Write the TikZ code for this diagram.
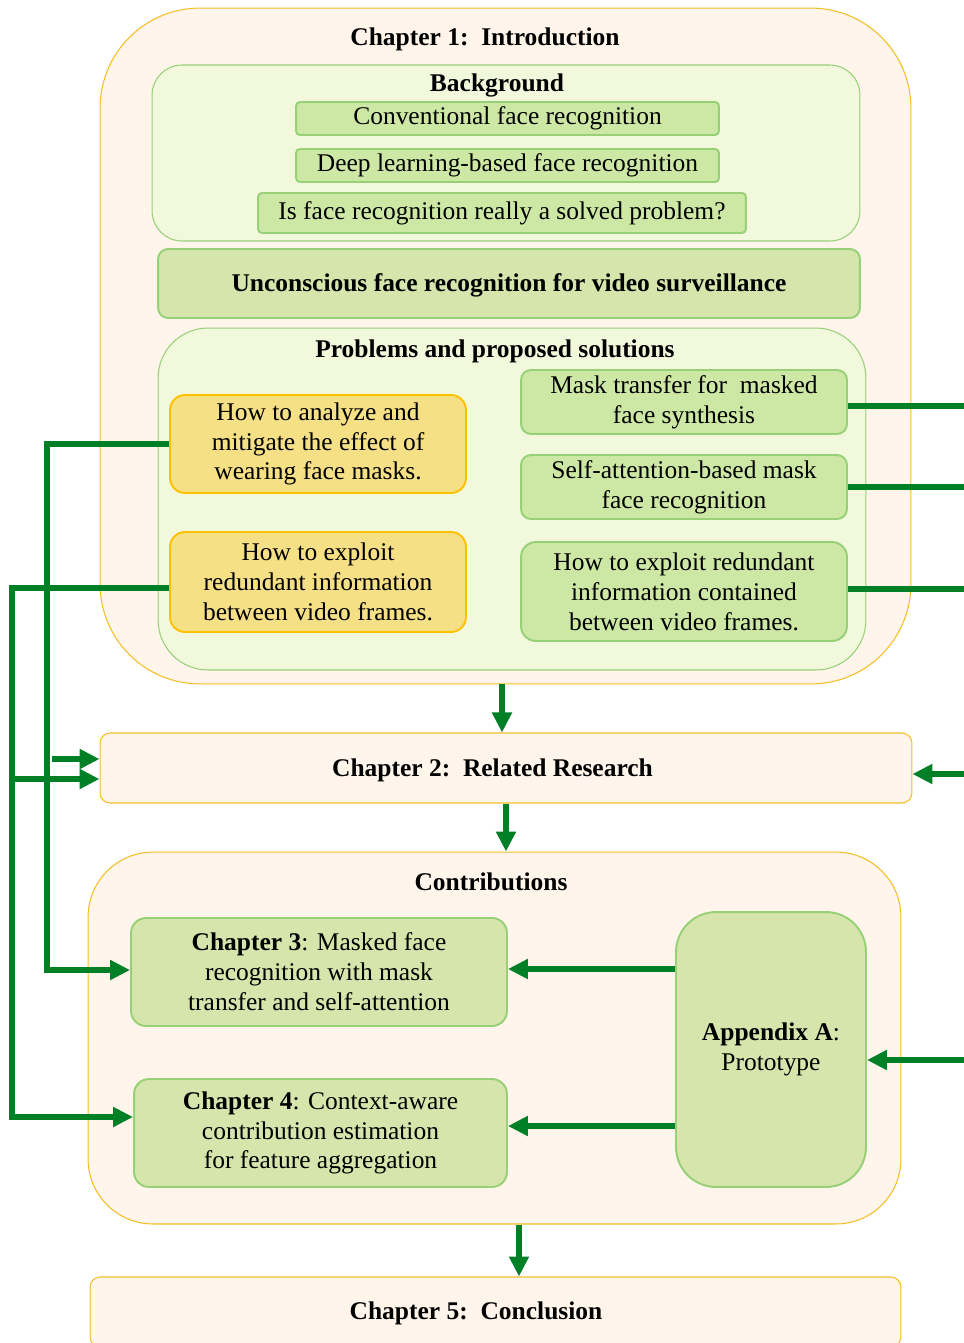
\documentclass[tikz,border=0pt]{standalone}
\usepackage{fontspec}
\setmainfont{Liberation Serif}
\usetikzlibrary{arrows.meta,positioning}

\definecolor{chapfill}{RGB}{255,245,235}
\definecolor{chapline}{RGB}{245,190,40}
\definecolor{bgfill}{RGB}{241,248,220}
\definecolor{itemfill}{RGB}{205,232,165}
\definecolor{boxfill}{RGB}{213,229,172}
\definecolor{itemline}{RGB}{151,208,119}
\definecolor{qfill}{RGB}{246,224,133}
\definecolor{qline}{RGB}{255,192,0}
\definecolor{flowgreen}{RGB}{0,128,38}

\begin{document}
\begin{tikzpicture}[x=0.02cm, y=-0.02cm,
  every node/.style={font=\fontsize{14.5}{17}\selectfont, align=center, inner sep=0pt},
  titletext/.style={font=\fontsize{14.5}{17}\selectfont\bfseries},
  chapbox/.style={draw=chapline, fill=chapfill, line width=0.6pt},
  bgbox/.style={draw=itemline, fill=bgfill, line width=0.6pt},
  itembox/.style={draw=itemline, fill=itemfill, line width=1.1pt, rounded corners=0.08cm},
  mainbox/.style={draw=itemline, fill=boxfill, line width=1.1pt},
  qbox/.style={draw=qline, fill=qfill, line width=1.1pt, rounded corners=0.3cm},
  flowline/.style={draw=flowgreen, line width=3.1pt},
  flow/.style={flowline, -{Triangle[length=0.4cm,width=0.38cm]}}]
  \useasboundingbox (0,0) rectangle (964,1343);
  \clip (0,0) rectangle (964,1343);

  % chapter 1
  \node[chapbox, rounded corners=2cm, minimum width=16.22cm, minimum height=13.52cm] (ch1) at (505.5,346) {};
  \node[titletext] (ch1title) at (485,39.5) {Chapter 1:\ \ Introduction};
  \node[bgbox, rounded corners=0.6cm, minimum width=14.16cm, minimum height=3.52cm] (bg) at (506,153) {};
  \node[titletext] (bgtitle) at (497,85.5) {Background};
  \node[itembox, minimum width=8.46cm, minimum height=0.66cm] (conv) at (507.5,118.5) {Conventional face recognition};
  \node[itembox, minimum width=8.46cm, minimum height=0.66cm] (deep) at (507.5,165.5) {Deep learning-based face recognition};
  \node[itembox, minimum width=9.76cm, minimum height=0.8cm] (solved) at (502,213) {Is face recognition really a solved problem?};
  \node[mainbox, rounded corners=0.2cm, minimum width=14.04cm, minimum height=1.38cm] (uncon) at (509,283.5) {};
  \node[titletext] (uncontext) at (509,285) {Unconscious face recognition for video surveillance};
  \node[bgbox, rounded corners=1cm, minimum width=14.16cm, minimum height=6.84cm] (prob) at (512,499) {};
  \node[titletext] (probtitle) at (495,351.5) {Problems and proposed solutions};
  \node[qbox, minimum width=5.92cm, minimum height=1.96cm] (qmask) at (318,444)
    {How to analyze and\\mitigate the effect of\\wearing face masks.};
  \node[qbox, minimum width=5.92cm, minimum height=2.0cm] (qvideo) at (318,582)
    {How to exploit\\redundant information\\between video frames.};
  \node[itembox, rounded corners=0.2cm, minimum width=6.52cm, minimum height=1.28cm] (smask) at (684,402)
    {Mask transfer for\ \ masked\\face synthesis};
  \node[itembox, rounded corners=0.2cm, minimum width=6.52cm, minimum height=1.28cm] (sattn) at (684,487)
    {Self-attention-based mask\\face recognition};
  \node[itembox, rounded corners=0.3cm, minimum width=6.52cm, minimum height=1.98cm] (svideo) at (684,591.5)
    {How to exploit redundant\\information contained\\between video frames.};

  % chapter 2
  \node[chapbox, rounded corners=0.2cm, minimum width=16.24cm, minimum height=1.4cm] (ch2) at (506,768) {};
  \node[titletext] (ch2title) at (492.5,770) {Chapter 2:\ \ Related Research};

  % contributions
  \node[chapbox, rounded corners=1.3cm, minimum width=16.26cm, minimum height=7.44cm] (contrib) at (494.5,1038) {};
  \node[titletext] (contribtitle) at (491,882) {Contributions};
  \node[mainbox, rounded corners=0.3cm, minimum width=7.52cm, minimum height=2.16cm] (ch3) at (319,972)
    {\textbf{Chapter 3}: Masked face\\recognition with mask\\transfer and self-attention};
  \node[mainbox, rounded corners=0.3cm, minimum width=7.46cm, minimum height=2.16cm] (ch4) at (320.5,1133)
    {\textbf{Chapter 4}: Context-aware\\contribution estimation\\for feature aggregation};
  \node[mainbox, rounded corners=0.8cm, minimum width=3.8cm, minimum height=5.5cm] (appA) at (771,1049.5)
    {\textbf{Appendix A}:\\Prototype};

  % chapter 5
  \node[chapbox, rounded corners=0.2cm, minimum width=16.22cm, minimum height=1.4cm] (ch5) at (495.5,1312) {};
  \node[titletext] (ch5title) at (476,1313) {Chapter 5:\ \ Conclusion};

  % connectors
  \coordinate (redge) at (964,0);
  \coordinate (lA) at (47,0);
  \coordinate (lB) at (12,0);
  \coordinate (jA) at (52,759);
  \coordinate (jB) at (12,779);
  \coordinate (rB) at (964,774);
  \coordinate (rA) at (964,1060);

  \draw[flow] ([xshift=-0.07cm]ch1.south) -- ([xshift=-0.07cm]ch1.south |- ch2.north);
  \draw[flow] (ch2.south) -- (ch2.south |- contrib.north);
  \draw[flow] ([xshift=0.49cm]contrib.south) -- ([xshift=0.49cm]contrib.south |- ch5.north);

  \draw[flowline] ([yshift=-0.08cm]smask.east) -- ([yshift=-0.08cm]smask.east -| redge);
  \draw[flowline] (sattn.east) -- (sattn.east -| redge);
  \draw[flowline] ([yshift=0.05cm]svideo.east) -- ([yshift=0.05cm]svideo.east -| redge);
  \draw[flow] (rB) -- (rB -| ch2.east);
  \draw[flow] (rA) -- (rA -| appA.east);

  \draw[flow] (qmask.west) -- (qmask.west -| lA) |- ([yshift=0.04cm]ch3.west);
  \draw[flow] ([yshift=-0.12cm]qvideo.west) -- ([yshift=-0.12cm]qvideo.west -| lB) |- ([yshift=0.32cm]ch4.west);
  \draw[flow] (jA) -- (jA -| ch2.west);
  \draw[flow] (jB) -- (jB -| ch2.west);

  \draw[flow] ([yshift=0.06cm]appA.west |- ch3.east) -- ([yshift=0.06cm]ch3.east);
  \draw[flow] ([yshift=0.14cm]appA.west |- ch4.east) -- ([yshift=0.14cm]ch4.east);
\end{tikzpicture}
\end{document}
